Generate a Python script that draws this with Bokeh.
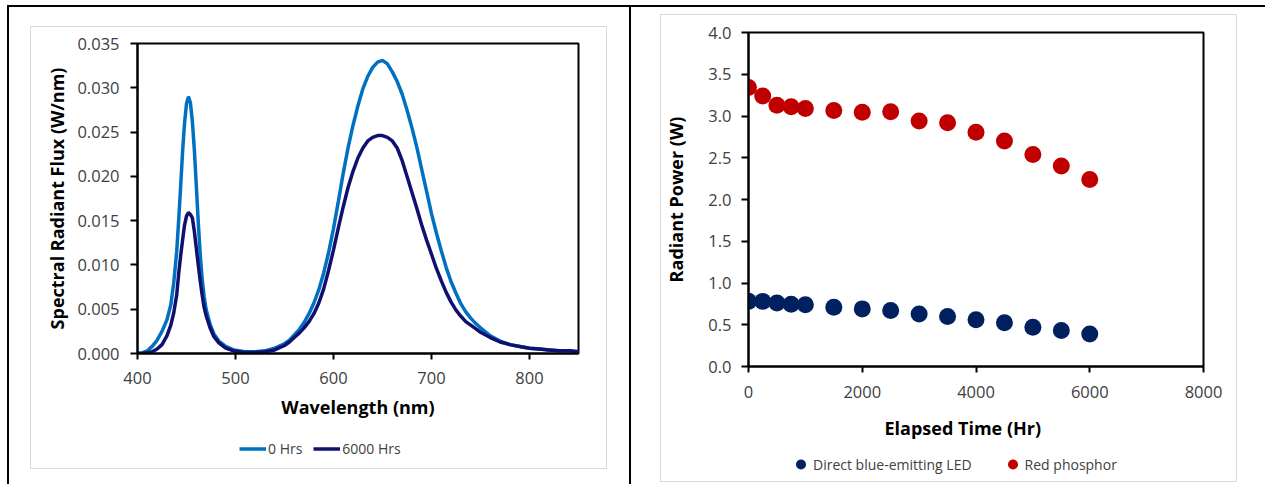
from bokeh.plotting import figure
from bokeh.models import (Range1d, Legend, LegendItem, Title, FixedTicker,
                          NumeralTickFormatter, InlineStyleSheet)
from bokeh.embed import file_html
from bokeh.resources import INLINE

# ---- spectral power distribution (W/nm) at 0 and 6000 hours ----
wavelength = [400, 405, 410, 415, 420, 425, 430, 434, 437, 440, 442, 444, 446, 448,
              450, 452, 454, 456, 458, 460, 462, 464, 466, 468, 470, 474, 478, 483,
              490, 498, 510, 520, 530, 540, 550, 555, 560, 565, 570, 575, 580, 585,
              590, 595, 600, 605, 610, 615, 620, 625, 630, 635, 640, 645, 650, 655,
              660, 665, 670, 675, 680, 685, 690, 695, 700, 705, 710, 715, 720, 725,
              730, 735, 740, 745, 750, 760, 770, 780, 790, 800, 810, 820, 830, 840, 850]

flux_0h = [0.0000, 0.0001, 0.0003, 0.0008, 0.0015, 0.0025, 0.0038, 0.0055, 0.0080, 0.0115,
           0.0150, 0.0188, 0.0228, 0.0260, 0.0282, 0.0290, 0.0283, 0.0262, 0.0230, 0.0190,
           0.0148, 0.0112, 0.0084, 0.0064, 0.0050, 0.0033, 0.0022, 0.0014, 0.0008, 0.0004,
           0.0002, 0.0002, 0.0003, 0.0006, 0.0011, 0.0015, 0.0021, 0.0027, 0.0035, 0.0045,
           0.0057, 0.0072, 0.0091, 0.0114, 0.0141, 0.0172, 0.0204, 0.0233, 0.0258, 0.0280,
           0.0299, 0.0313, 0.0323, 0.0329, 0.0331, 0.0327, 0.0318, 0.0307, 0.0293, 0.0275,
           0.0255, 0.0233, 0.0208, 0.0183, 0.0158, 0.0136, 0.0116, 0.0097, 0.0081, 0.0068,
           0.0056, 0.0047, 0.0040, 0.0034, 0.0029, 0.0020, 0.0014, 0.0010, 0.0008, 0.0006,
           0.0005, 0.0004, 0.0003, 0.0003, 0.0002]

flux_6000h = [0.0000, 0.0000, 0.0001, 0.0002, 0.0005, 0.0010, 0.0020, 0.0032, 0.0046, 0.0066,
              0.0090, 0.0110, 0.0128, 0.0145, 0.0155, 0.0159, 0.0157, 0.0153, 0.0138, 0.0119,
              0.0100, 0.0082, 0.0066, 0.0052, 0.0043, 0.0029, 0.0019, 0.0012, 0.0006, 0.0003,
              0.0001, 0.0001, 0.0002, 0.0004, 0.0009, 0.0013, 0.0018, 0.0023, 0.0029, 0.0036,
              0.0045, 0.0057, 0.0073, 0.0094, 0.0117, 0.0142, 0.0166, 0.0188, 0.0206, 0.0221,
              0.0232, 0.0240, 0.0244, 0.0246, 0.0246, 0.0244, 0.0240, 0.0232, 0.0218, 0.0200,
              0.0182, 0.0164, 0.0145, 0.0128, 0.0112, 0.0096, 0.0082, 0.0069, 0.0058, 0.0049,
              0.0042, 0.0036, 0.0032, 0.0028, 0.0024, 0.0018, 0.0013, 0.0010, 0.0008, 0.0006,
              0.0005, 0.0004, 0.0003, 0.0003, 0.0002]

# ---- radiant power over time (W) ----
elapsed_hr = [0, 250, 500, 750, 1000, 1500, 2000, 2500, 3000, 3500, 4000, 4500, 5000, 5500, 6000]
blue_led_w = [0.78, 0.78, 0.76, 0.745, 0.74, 0.71, 0.69, 0.67, 0.63, 0.60, 0.56, 0.525, 0.47, 0.43, 0.39]
red_phosphor_w = [3.34, 3.24, 3.13, 3.11, 3.09, 3.065, 3.045, 3.05, 2.94, 2.92, 2.805, 2.70, 2.54, 2.40, 2.24]

spd_xticks = [400, 500, 600, 700, 800]
spd_yticks = [0.0, 0.005, 0.010, 0.015, 0.020, 0.025, 0.030, 0.035]
pw_xticks = [0, 2000, 4000, 6000, 8000]
pw_yticks = [0.0, 0.5, 1.0, 1.5, 2.0, 2.5, 3.0, 3.5, 4.0]

FONT = "Open Sans"
TICK_COLOR = "#404040"
COLOR_0H = "#0070C0"
COLOR_6000H = "#101070"
COLOR_BLUE = "#002060"
COLOR_RED = "#C00000"


def style_axes(p, label_standoff_y, title_standoff_y, label_standoff_x, title_standoff_x):
    for ax in (p.xaxis[0], p.yaxis[0]):
        ax.axis_line_color = "black"
        ax.axis_line_width = 2
        ax.major_tick_line_color = "black"
        ax.major_tick_line_width = 2
        ax.major_tick_in = 0
        ax.minor_tick_line_color = None
        ax.major_label_text_font = FONT
        ax.major_label_text_font_size = "16.5px"
        ax.major_label_text_color = TICK_COLOR
        ax.axis_label_text_font = FONT
        ax.axis_label_text_font_style = "bold"
        ax.axis_label_text_font_size = "18px"
        ax.axis_label_text_color = "black"
    p.yaxis[0].major_tick_out = 7
    p.xaxis[0].major_tick_out = 6
    p.yaxis[0].major_label_standoff = label_standoff_y
    p.yaxis[0].axis_label_standoff = title_standoff_y
    p.xaxis[0].major_label_standoff = label_standoff_x
    p.xaxis[0].axis_label_standoff = title_standoff_x
    p.xgrid.visible = False
    p.ygrid.visible = False
    p.outline_line_color = "black"
    p.outline_line_width = 2
    p.outline_line_alpha = 1.0
    p.background_fill_color = "white"
    p.border_fill_color = "white"


def decoration_css(before, after):
    rule = "content: ''; position: absolute; box-sizing: border-box; z-index: 100; pointer-events: none;"
    return InlineStyleSheet(css=":host::before { %s %s }\n:host::after { %s %s }"
                            % (rule, before, rule, after))


def legend_panel(width, height, left, top):
    """A transparent strip that only carries a legend, placed under a chart.
    Its ranges lie away from the data, so the series themselves stay hidden here."""
    f = figure(width=width, height=height, x_range=Range1d(-2, -1), y_range=Range1d(-2, -1),
               x_axis_type=None, y_axis_type=None, output_backend="svg",
               toolbar_location=None, min_border=0, outline_line_color=None,
               background_fill_alpha=0, border_fill_alpha=0)
    f.styles = {"position": "absolute", "left": f"{left}px", "top": f"{top}px"}
    return f


def add_legend(f, items, glyph_w, glyph_h, standoff, spacing):
    f.add_layout(Legend(items=items, orientation="horizontal", location="center_left",
                        glyph_width=glyph_w, glyph_height=glyph_h, label_standoff=standoff,
                        spacing=spacing, padding=0, margin=0, border_line_color=None,
                        background_fill_alpha=0, label_text_font=FONT,
                        label_text_font_size="14px", label_text_color=TICK_COLOR), "center")


# ---------------- left panel: spectra ----------------
p1 = figure(width=630, height=484, x_range=Range1d(400, 850), y_range=Range1d(0, 0.035),
            output_backend="svg", toolbar_location=None,
            min_border_left=137, min_border_right=52, min_border_top=43, min_border_bottom=131)

p1.line(wavelength, flux_0h, line_color=COLOR_0H, line_width=3.5)
p1.line(wavelength, flux_6000h, line_color=COLOR_6000H, line_width=3.5)

p1.xaxis[0].ticker = FixedTicker(ticks=spd_xticks)
p1.yaxis[0].ticker = FixedTicker(ticks=spd_yticks)
p1.yaxis[0].formatter = NumeralTickFormatter(format="0.000")
p1.xaxis[0].axis_label = "Wavelength (nm)"
p1.yaxis[0].axis_label = "Spectral Radiant Flux (W/nm)"
style_axes(p1, 11, 5, 12, 8)

# table rules around the panel and the light chart-area border
p1.styles = {"position": "relative"}
p1.stylesheets = [decoration_css(
    "left: 7px; top: 5px; width: 623px; height: 479px; border-top: 2px solid #000;"
    " border-left: 2px solid #000; border-right: 1px solid #000;",
    "left: 30px; top: 26px; width: 577px; height: 443px; border: 1px solid #d9d9d9;")]

leg1 = legend_panel(180, 30, 239, 433)
k0 = leg1.line(wavelength, flux_0h, line_color=COLOR_0H, line_width=3.5)
k1 = leg1.line(wavelength, flux_6000h, line_color=COLOR_6000H, line_width=3.5)
add_legend(leg1, [LegendItem(label="0 Hrs", renderers=[k0]),
                  LegendItem(label="6000 Hrs", renderers=[k1])], 27, 16, 2, 11)

# ---------------- right panel: radiant power ----------------
p2 = figure(width=635, height=484, x_range=Range1d(0, 8000), y_range=Range1d(0, 4),
            output_backend="svg", toolbar_location=None,
            min_border_left=118, min_border_right=62, min_border_top=32, min_border_bottom=118)

p2.scatter(elapsed_hr, blue_led_w, size=17, fill_color=COLOR_BLUE, line_color=None)
p2.scatter(elapsed_hr, red_phosphor_w, size=17, fill_color=COLOR_RED, line_color=None)

p2.xaxis[0].ticker = FixedTicker(ticks=pw_xticks)
p2.yaxis[0].ticker = FixedTicker(ticks=pw_yticks)
p2.yaxis[0].formatter = NumeralTickFormatter(format="0.0")
p2.xaxis[0].formatter = NumeralTickFormatter(format="0")
p2.yaxis[0].axis_label = "Radiant Power (W)"
style_axes(p2, 10, 17, 13, 6)

p2.add_layout(Title(text="Elapsed Time (Hr)", align="left", offset=136, standoff=31,
                    vertical_align="top", text_font=FONT, text_font_style="bold",
                    text_font_size="18px", text_color="black"), "below")

p2.styles = {"position": "absolute", "left": "630px", "top": "0px"}
p2.stylesheets = [decoration_css(
    "left: 0px; top: 5px; width: 635px; height: 479px; border-top: 2px solid #000;"
    " border-left: 1px solid #000;",
    "left: 30px; top: 14px; width: 577px; height: 468px; border: 1px solid #d9d9d9;")]

leg2 = legend_panel(340, 30, 788, 449)
kb = leg2.scatter(elapsed_hr, blue_led_w, fill_color=COLOR_BLUE, line_color=None)
kr = leg2.scatter(elapsed_hr, red_phosphor_w, fill_color=COLOR_RED, line_color=None)
add_legend(leg2, [LegendItem(label="Direct blue-emitting LED", renderers=[kb]),
                  LegendItem(label="Red phosphor", renderers=[kr])], 25, 25, -3, 28)

open("out.html", "w").write(file_html([p1, p2, leg1, leg2], INLINE))
